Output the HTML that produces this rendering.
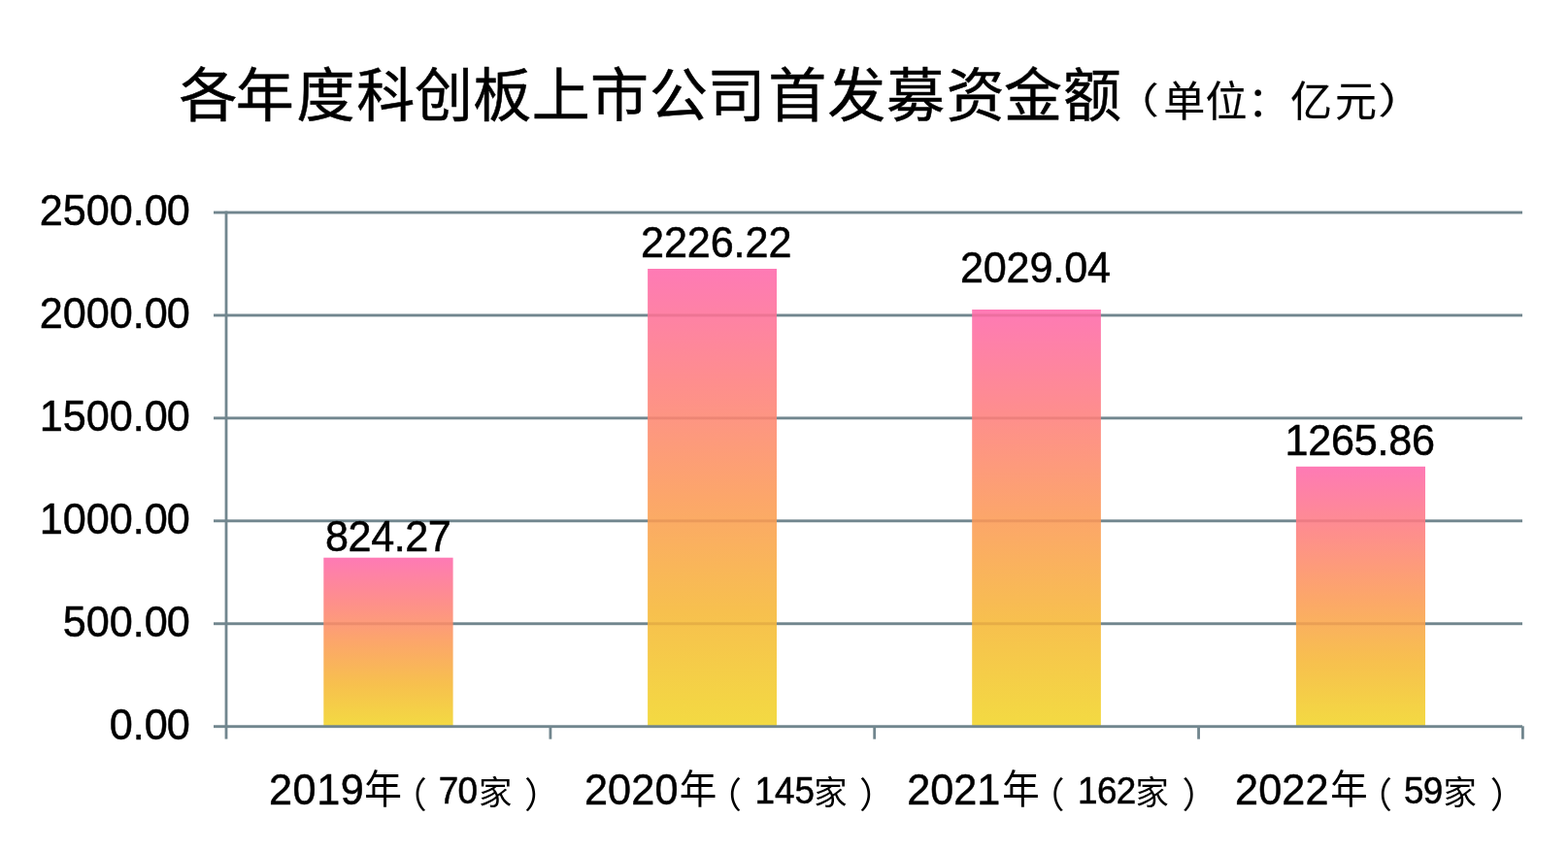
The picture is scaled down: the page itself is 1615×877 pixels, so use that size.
<!DOCTYPE html>
<html lang="zh"><head><meta charset="utf-8"><title>各年度科创板上市公司首发募资金额（单位：亿元）</title>
<style>
html,body{margin:0;padding:0;background:#fff;}
body{width:1615px;height:877px;overflow:hidden;font-family:"Liberation Sans","Noto Sans CJK SC",sans-serif;}
svg{display:block;will-change:transform;}
svg text{font-family:"Liberation Sans","Noto Sans CJK SC",sans-serif;fill:#000;}
</style></head><body>
<svg width="1615" height="877" viewBox="0 0 1615 877" role="img" aria-label="各年度科创板上市公司首发募资金额（单位：亿元） 2019年（70家）824.27 2020年（145家）2226.22 2021年（162家）2029.04 2022年（59家）1265.86">
<defs><linearGradient id="bg" x1="0" y1="0" x2="0" y2="1">
<stop offset="0" stop-color="#fe7ab5"/><stop offset="0.25" stop-color="#fe8e8d"/><stop offset="0.5" stop-color="#fca66a"/><stop offset="0.75" stop-color="#f7c04e"/><stop offset="1" stop-color="#f3da42"/>
</linearGradient></defs>
<rect width="1615" height="877" fill="#fff"/>
<rect x="220.00" y="217.55" width="1348.00" height="2.90" fill="#71868e"/>
<rect x="220.00" y="323.49" width="1348.00" height="2.90" fill="#71868e"/>
<rect x="220.00" y="429.43" width="1348.00" height="2.90" fill="#71868e"/>
<rect x="220.00" y="535.37" width="1348.00" height="2.90" fill="#71868e"/>
<rect x="220.00" y="641.31" width="1348.00" height="2.90" fill="#71868e"/>
<rect x="333.30" y="574.70" width="133.30" height="174.00" fill="url(#bg)"/>
<rect x="667.10" y="277.00" width="132.90" height="471.70" fill="url(#bg)"/>
<rect x="1001.20" y="319.00" width="132.70" height="429.70" fill="url(#bg)"/>
<rect x="1334.90" y="480.80" width="133.10" height="267.90" fill="url(#bg)"/>
<rect x="333.30" y="641.31" width="133.30" height="2.90" fill="#5a0000" opacity="0.1"/>
<rect x="667.10" y="323.49" width="132.90" height="2.90" fill="#5a0000" opacity="0.1"/>
<rect x="667.10" y="429.43" width="132.90" height="2.90" fill="#5a0000" opacity="0.1"/>
<rect x="667.10" y="535.37" width="132.90" height="2.90" fill="#5a0000" opacity="0.1"/>
<rect x="667.10" y="641.31" width="132.90" height="2.90" fill="#5a0000" opacity="0.1"/>
<rect x="1001.20" y="323.49" width="132.70" height="2.90" fill="#5a0000" opacity="0.1"/>
<rect x="1001.20" y="429.43" width="132.70" height="2.90" fill="#5a0000" opacity="0.1"/>
<rect x="1001.20" y="535.37" width="132.70" height="2.90" fill="#5a0000" opacity="0.1"/>
<rect x="1001.20" y="641.31" width="132.70" height="2.90" fill="#5a0000" opacity="0.1"/>
<rect x="1334.90" y="535.37" width="133.10" height="2.90" fill="#5a0000" opacity="0.1"/>
<rect x="1334.90" y="641.31" width="133.10" height="2.90" fill="#5a0000" opacity="0.1"/>
<rect x="220.00" y="747.25" width="1348.00" height="2.90" fill="#71868e"/>
<rect x="231.60" y="217.55" width="2.80" height="544.05" fill="#71868e"/>
<rect x="565.50" y="748.70" width="2.80" height="13.00" fill="#71868e"/>
<rect x="899.30" y="748.70" width="2.80" height="13.00" fill="#71868e"/>
<rect x="1233.15" y="748.70" width="2.80" height="13.00" fill="#71868e"/>
<rect x="1567.00" y="748.30" width="2.80" height="13.40" fill="#71868e"/>
<g fill="#000">
<text transform="matrix(1 0 0 1.035 171.86 231.95)" font-size="43.2" stroke="#000" stroke-width="0.5">0</text>
<text transform="matrix(1 0 0 1.035 40.73 231.95)" font-size="43.2" stroke="#000" stroke-width="0.5">2500.0</text>
<text transform="matrix(1 0 0 1.035 171.86 337.89)" font-size="43.2" stroke="#000" stroke-width="0.5">0</text>
<text transform="matrix(1 0 0 1.035 40.73 337.89)" font-size="43.2" stroke="#000" stroke-width="0.5">2000.0</text>
<text transform="matrix(1 0 0 1.035 171.86 443.83)" font-size="43.2" stroke="#000" stroke-width="0.5">0</text>
<text transform="matrix(1 0 0 1.035 40.73 443.83)" font-size="43.2" stroke="#000" stroke-width="0.5">1</text>
<text transform="matrix(1 0 0 1.035 64.75 443.83)" font-size="43.2" stroke="#000" stroke-width="0.5">500.0</text>
<text transform="matrix(1 0 0 1.035 171.86 549.77)" font-size="43.2" stroke="#000" stroke-width="0.5">0</text>
<text transform="matrix(1 0 0 1.035 40.73 549.77)" font-size="43.2" stroke="#000" stroke-width="0.5">1</text>
<text transform="matrix(1 0 0 1.035 64.75 549.77)" font-size="43.2" stroke="#000" stroke-width="0.5">000.0</text>
<text transform="matrix(1 0 0 1.035 171.86 655.71)" font-size="43.2" stroke="#000" stroke-width="0.5">0</text>
<text transform="matrix(1 0 0 1.035 64.75 655.71)" font-size="43.2" stroke="#000" stroke-width="0.5">500.0</text>
<text transform="matrix(1 0 0 1.035 171.86 761.65)" font-size="43.2" stroke="#000" stroke-width="0.5">0</text>
<text transform="matrix(1 0 0 1.035 112.81 761.65)" font-size="43.2" stroke="#000" stroke-width="0.5">0.0</text>
<text transform="matrix(1 0 0 1.035 335.07 567.80)" x="0.00 23.55 47.10 70.65 82.17 105.72" font-size="43.2" stroke="#000" stroke-width="0.5">824.27</text>
<text transform="matrix(1 0 0 1.035 659.98 265.00)" x="0.00 23.91 47.81 71.72 95.63 107.51 131.42" font-size="43.2" stroke="#000" stroke-width="0.5">2226.22</text>
<text transform="matrix(1 0 0 1.035 988.88 291.00)" x="0.00 23.86 47.73 71.59 95.46 107.30 131.16" font-size="43.2" stroke="#000" stroke-width="0.5">2029.04</text>
<text transform="matrix(1 0 0 1.035 1323.55 469.10)" font-size="43.2" stroke="#000" stroke-width="0.5">1</text>
<text transform="matrix(1 0 0 1.035 1347.31 469.10)" x="0.00 23.77 47.53 71.30 83.04 106.81" font-size="43.2" stroke="#000" stroke-width="0.5">265.86</text>
<text transform="matrix(1 0 0 1.035 276.98 828.70)" x="0.00 24.60" font-size="43.2" stroke="#000" stroke-width="0.5">20</text>
<text transform="matrix(1 0 0 1.035 326.17 828.70)" font-size="43.2" stroke="#000" stroke-width="0.5">1</text>
<text transform="matrix(1 0 0 1.035 350.77 828.70)" x="0.00" font-size="43.2" stroke="#000" stroke-width="0.5">9</text>
<text transform="matrix(0.9383 0 0 1 375.30 828.44)" font-size="41.2">年</text>
<text x="402.9" y="833.3" font-size="36.8">（</text>
<text transform="matrix(1 0 0 1.035 451.66 828.30)" x="0.00 19.91" font-size="36.9" stroke="#000" stroke-width="0.5">70</text>
<text x="493.07" y="829.05" font-size="34.3">家</text>
<text x="540.1" y="833.3" font-size="36.8">）</text>
<text transform="matrix(1 0 0 1.035 601.98 828.70)" x="0.00 24.14 48.29 72.43" font-size="43.2" stroke="#000" stroke-width="0.5">2020</text>
<text transform="matrix(0.9357 0 0 1 699.70 828.44)" font-size="41.2">年</text>
<text x="727.3" y="833.3" font-size="36.8">（</text>
<text transform="matrix(1 0 0 1.035 777.43 828.30)" font-size="36.9" stroke="#000" stroke-width="0.5">1</text>
<text transform="matrix(1 0 0 1.035 797.95 828.30)" x="0.00 20.52" font-size="36.9" stroke="#000" stroke-width="0.5">45</text>
<text x="838.17" y="829.05" font-size="34.3">家</text>
<text x="884.9" y="833.3" font-size="36.8">）</text>
<text transform="matrix(1 0 0 1.035 934.28 828.70)" x="0.00 23.99 47.99" font-size="43.2" stroke="#000" stroke-width="0.5">202</text>
<text transform="matrix(1 0 0 1.035 1006.26 828.70)" font-size="43.2" stroke="#000" stroke-width="0.5">1</text>
<text transform="matrix(0.933 0 0 1 1032.21 828.44)" font-size="41.2">年</text>
<text x="1059.8" y="833.3" font-size="36.8">（</text>
<text transform="matrix(1 0 0 1.035 1110.03 828.30)" font-size="36.9" stroke="#000" stroke-width="0.5">1</text>
<text transform="matrix(1 0 0 1.035 1129.91 828.30)" x="0.00 19.88" font-size="36.9" stroke="#000" stroke-width="0.5">62</text>
<text x="1169.40" y="829.05" font-size="34.3">家</text>
<text x="1217.5" y="833.3" font-size="36.8">）</text>
<text transform="matrix(1 0 0 1.035 1271.98 828.70)" x="0.00 24.17 48.35 72.52" font-size="43.2" stroke="#000" stroke-width="0.5">2022</text>
<text transform="matrix(0.933 0 0 1 1370.21 828.44)" font-size="41.2">年</text>
<text x="1397.3" y="833.3" font-size="36.8">（</text>
<text transform="matrix(1 0 0 1.035 1445.97 828.30)" x="0.00 19.90" font-size="36.9" stroke="#000" stroke-width="0.5">59</text>
<text x="1486.48" y="829.05" font-size="34.3">家</text>
<text x="1534.7" y="833.3" font-size="36.8">）</text>
<text y="120" x="184.55 242.81 305.53 367.24 426.92 487.30 547.68 608.09 669.04 728.38 791.16 852.19 913.07 974.81 1034.05 1095.05" font-size="60" stroke="#000" stroke-width="0.5">各年度科创板上市公司首发募资金额</text>
<text transform="matrix(1.094 0 0 0.89 1147.87 116.81)" font-size="42" stroke="#000" stroke-width="0.2">（</text>
<text y="120" x="1198.33 1241.60 1284.9 1329.11 1375.02" font-size="43" stroke="#000" stroke-width="0.2">单位：亿元</text>
<text transform="matrix(1.186 0 0 0.89 1419.21 116.81)" font-size="42" stroke="#000" stroke-width="0.2">）</text>
</g>
</svg>
</body></html>
